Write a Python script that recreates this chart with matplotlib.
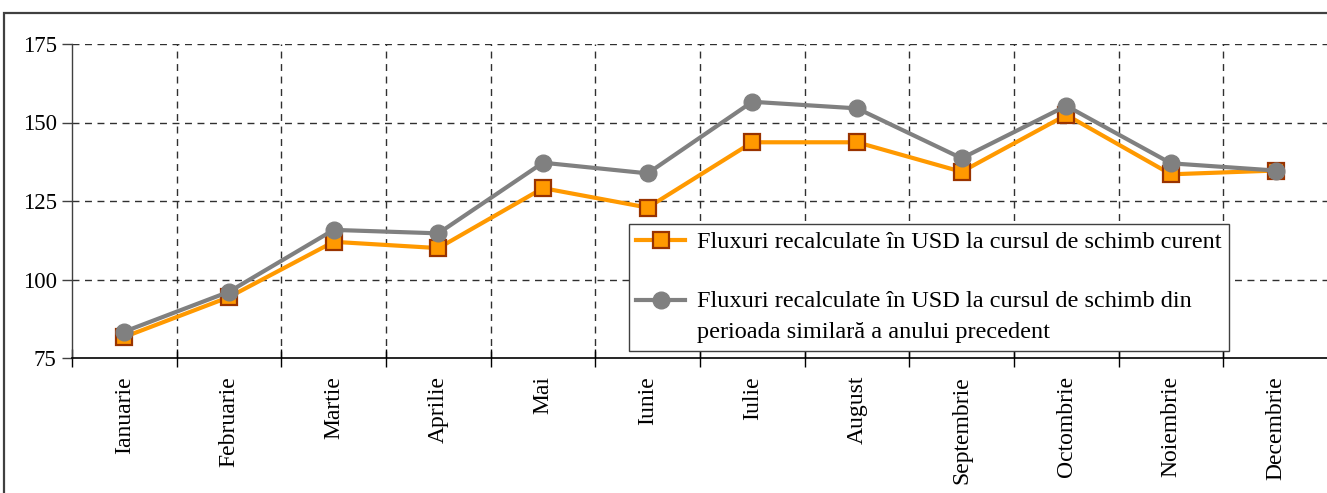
import matplotlib
matplotlib.use("Agg")
import matplotlib.pyplot as plt
from matplotlib.patches import Rectangle
from matplotlib.legend_handler import HandlerLine2D
import numpy as np

months = ["Ianuarie", "Februarie", "Martie", "Aprilie", "Mai", "Iunie",
          "Iulie", "August", "Septembrie", "Octombrie", "Noiembrie", "Decembrie"]
curent = [81.7, 94.4, 112.0, 110.0, 129.1, 122.9, 143.7, 143.7, 134.3, 152.4, 133.5, 134.7]
precedent = [83.4, 96.1, 115.8, 114.7, 137.2, 133.8, 156.6, 154.5, 138.6, 155.3, 137.0, 134.7]
label_curent = "Fluxuri recalculate în USD la cursul de schimb curent"
label_precedent = "Fluxuri recalculate în USD la cursul de schimb din\nperioada similară a anului precedent"
yticks = [75, 100, 125, 150, 175]

plt.rcParams['font.family'] = ['Liberation Serif', 'DejaVu Serif']


class ShiftedHandler(HandlerLine2D):
    def __init__(self, dy=0, **kw):
        super().__init__(**kw)
        self.dy = dy

    def create_artists(self, legend, orig_handle, xdescent, ydescent, width, height,
                       fontsize, trans):
        artists = super().create_artists(legend, orig_handle, xdescent, ydescent, width,
                                         height, fontsize, trans)
        for a in artists:
            a.set_ydata(np.asarray(a.get_ydata(), dtype=float) + self.dy)
        return artists


W, H = 1327, 493
fig = plt.figure(figsize=(W / 100, H / 100), dpi=100)
ax = fig.add_axes([72 / W, 1 - 358 / H, 1256 / W, 314 / H])

# outer frame
fig.patches.append(Rectangle((4 / W, -0.2), 1.5, 0.2 + 1 - 13 / H, transform=fig.transFigure,
                             fill=False, edgecolor='#404040', linewidth=1.6, zorder=0))

x = np.arange(len(months))
l1, = ax.plot(x, curent, color='#FF9900', linewidth=3, marker='s', markersize=11,
              markerfacecolor='#FF9900', markeredgecolor='#993300', markeredgewidth=1.6,
              label=label_curent, zorder=4)
l2, = ax.plot(x, precedent, color='#808080', linewidth=3, marker='o', markersize=12,
              markerfacecolor='#808080', markeredgecolor='#808080', label=label_precedent, zorder=5)

ax.set_xlim(-0.5, len(months) - 0.5)
ax.set_ylim(75, 175)
ax.set_yticks(yticks)
ax.set_yticklabels([str(v) for v in yticks], fontsize=16.5)

ax.set_xticks(x)
ax.set_xticklabels(months, rotation=90, fontsize=17, va='top')
ax.tick_params(axis='x', which='major', length=0, pad=13)
ax.set_xticks(np.arange(-0.5, len(months), 1), minor=True)
ax.tick_params(axis='x', which='minor', direction='inout', length=13, width=1, color='black')
ax.tick_params(axis='y', direction='out', length=7, width=1, color='#404040', pad=4)

ax.grid(False)
for v in yticks[1:]:
    ax.axhline(v, color='#303030', linestyle=(0, (5, 4)), linewidth=1, zorder=1)
for b in np.arange(0.5, len(months) - 0.5, 1):
    ax.axvline(b, color='#303030', linestyle=(0, (5, 4)), linewidth=1, zorder=1)

for s in ['top', 'right']:
    ax.spines[s].set_visible(False)
ax.spines['left'].set_color('#404040')
ax.spines['bottom'].set_color('black')
ax.spines['left'].set_linewidth(1)
ax.spines['bottom'].set_linewidth(1.2)

leg = ax.legend(handles=[l1, l2], loc='upper left', bbox_to_anchor=(0.4435, 0.4268),
                fontsize=17.5, frameon=True, fancybox=False, edgecolor='#404040',
                framealpha=1, handlelength=2.0, handletextpad=0.5, labelspacing=1.55,
                borderpad=0.3, borderaxespad=0,
                handler_map={l2: ShiftedHandler(dy=12)})
leg.get_frame().set_linewidth(1)
leg.set_zorder(10)
for t in leg.get_texts():
    t.set_linespacing(1.65)

fig.savefig("out.png", dpi=100)
